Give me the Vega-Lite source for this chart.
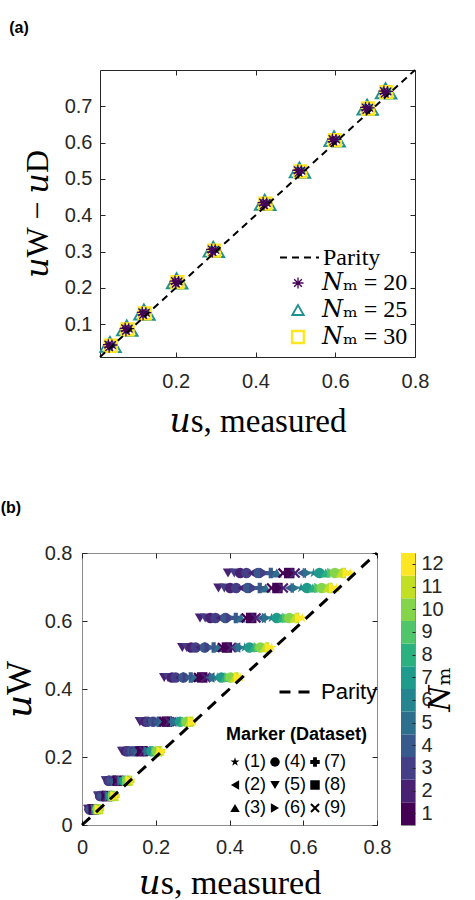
{
  "$schema": "https://vega.github.io/schema/vega-lite/v6.json",
  "background": "white",
  "padding": {"left": 0, "top": 20, "right": 0, "bottom": 0},
  "spacing": 61,
  "resolve": {"scale": {"color": "independent", "shape": "independent", "strokeDash": "independent", "size": "independent", "strokeWidth": "independent", "x": "independent", "y": "independent"}, "legend": {"color": "independent", "shape": "independent", "strokeDash": "independent", "size": "independent", "strokeWidth": "independent"}},
  "config": {
    "axis": {"labelFlush": false, "grid": false, "domain": false}
  },
  "vconcat": [
    {
      "width": 333,
      "height": 287,
      "title": {"text": "(a)", "anchor": "start", "frame": "bounds", "font": "Liberation Sans", "fontSize": 16, "fontWeight": "bold", "color": "black", "offset": 30, "dx": -12},
      "view": {"stroke": null},
      "layer": [
        {
          "data": {"values": [
            {"s":"25","x":0.035,"y":0.052},{"s":"25","x":0.025,"y":0.038},{"s":"25","x":0.048,"y":0.037},
            {"s":"25","x":0.077,"y":0.097},{"s":"25","x":0.067,"y":0.083},{"s":"25","x":0.090,"y":0.082},
            {"s":"25","x":0.120,"y":0.141},{"s":"25","x":0.110,"y":0.127},{"s":"25","x":0.133,"y":0.126},
            {"s":"25","x":0.202,"y":0.227},{"s":"25","x":0.192,"y":0.213},{"s":"25","x":0.215,"y":0.212},
            {"s":"25","x":0.294,"y":0.314},{"s":"25","x":0.284,"y":0.300},{"s":"25","x":0.307,"y":0.299},
            {"s":"25","x":0.423,"y":0.443},{"s":"25","x":0.413,"y":0.429},{"s":"25","x":0.436,"y":0.428},
            {"s":"25","x":0.510,"y":0.532},{"s":"25","x":0.500,"y":0.518},{"s":"25","x":0.523,"y":0.517},
            {"s":"25","x":0.597,"y":0.618},{"s":"25","x":0.587,"y":0.604},{"s":"25","x":0.610,"y":0.603},
            {"s":"25","x":0.680,"y":0.705},{"s":"25","x":0.670,"y":0.691},{"s":"25","x":0.693,"y":0.690},
            {"s":"25","x":0.726,"y":0.750},{"s":"25","x":0.716,"y":0.736},{"s":"25","x":0.739,"y":0.735},
            {"s":"30","x":0.037,"y":0.041},{"s":"30","x":0.079,"y":0.086},{"s":"30","x":0.122,"y":0.130},
            {"s":"30","x":0.204,"y":0.216},{"s":"30","x":0.296,"y":0.303},{"s":"30","x":0.425,"y":0.432},
            {"s":"30","x":0.512,"y":0.521},{"s":"30","x":0.599,"y":0.607},{"s":"30","x":0.682,"y":0.694},
            {"s":"30","x":0.728,"y":0.739},
            {"s":"20","x":0.033,"y":0.037},{"s":"20","x":0.040,"y":0.043},{"s":"20","x":0.031,"y":0.044},
            {"s":"20","x":0.075,"y":0.082},{"s":"20","x":0.082,"y":0.088},{"s":"20","x":0.073,"y":0.089},
            {"s":"20","x":0.118,"y":0.126},{"s":"20","x":0.125,"y":0.132},{"s":"20","x":0.116,"y":0.133},
            {"s":"20","x":0.200,"y":0.212},{"s":"20","x":0.207,"y":0.218},{"s":"20","x":0.198,"y":0.219},
            {"s":"20","x":0.292,"y":0.299},{"s":"20","x":0.299,"y":0.305},{"s":"20","x":0.290,"y":0.306},
            {"s":"20","x":0.421,"y":0.428},{"s":"20","x":0.428,"y":0.434},{"s":"20","x":0.419,"y":0.435},
            {"s":"20","x":0.508,"y":0.517},{"s":"20","x":0.515,"y":0.523},{"s":"20","x":0.506,"y":0.524},
            {"s":"20","x":0.595,"y":0.603},{"s":"20","x":0.602,"y":0.609},{"s":"20","x":0.593,"y":0.610},
            {"s":"20","x":0.678,"y":0.690},{"s":"20","x":0.685,"y":0.696},{"s":"20","x":0.676,"y":0.697},
            {"s":"20","x":0.724,"y":0.735},{"s":"20","x":0.731,"y":0.741},{"s":"20","x":0.722,"y":0.742}
          ]},
          "mark": {"type": "point", "filled": false, "opacity": 1},
          "encoding": {
            "x": {"field": "x", "type": "quantitative", "scale": {"domain": [0.01, 0.8], "range": [18, 333], "nice": false, "zero": false},
              "axis": {"orient": "top", "values": [0.2, 0.4, 0.6, 0.8], "labels": false, "title": null, "tickSize": -5, "tickColor": "#262626",
                "domain": true, "domainColor": "#262626", "domainWidth": 1}},
            "y": {"field": "y", "type": "quantitative", "scale": {"domain": [0.01, 0.8], "nice": false, "zero": false},
              "axis": {"orient": "right", "values": [0.1, 0.2, 0.3, 0.4, 0.5, 0.6, 0.7], "labels": false, "title": null, "tickSize": -5, "tickColor": "#262626",
                "domain": true, "domainColor": "#262626", "domainWidth": 1}},
            "color": {"field": "s", "type": "nominal",
              "scale": {"domain": ["20", "25", "30"], "range": ["#440154", "#21918c", "#fde725"]},
              "legend": {"title": null, "orient": "none", "legendX": 204, "legendY": 201, "labelExpr": "'𝑁ₘ = ' + datum.label",
                "labelFont": "Liberation Serif, DejaVu Serif", "labelFontSize": 24, "labelColor": "black", "labelOffset": 12,
                "rowPadding": 3, "symbolSize": 160, "symbolStrokeWidth": 2.5}},
            "shape": {"field": "s", "type": "nominal",
              "scale": {"domain": ["20", "25", "30"], "range": ["M-1,0L1,0M0,-1L0,1M-0.7,-0.7L0.7,0.7M-0.7,0.7L0.7,-0.7", "triangle-up", "square"]}},
            "size": {"field": "s", "type": "nominal", "scale": {"domain": ["20", "25", "30"], "range": [120, 140, 200]}, "legend": null},
            "strokeWidth": {"field": "s", "type": "nominal", "scale": {"domain": ["20", "25", "30"], "range": [1.3, 2.5, 2.8]}, "legend": null}
          }
        },
        {
          "data": {"values": [{"x": 0.01, "y": 0.01}, {"x": 0.8, "y": 0.8}]},
          "mark": {"type": "line", "color": "black", "strokeWidth": 2},
          "encoding": {
            "x": {"field": "x", "type": "quantitative", "scale": {"domain": [0.01, 0.8], "range": [18, 333], "nice": false, "zero": false},
              "axis": {"orient": "bottom", "values": [0.2, 0.4, 0.6, 0.8], "format": ".1f", "tickSize": -5, "tickColor": "#262626",
                "domain": true, "domainColor": "#262626", "domainWidth": 1,
                "labelFont": "Liberation Sans", "labelFontSize": 20, "labelColor": "#262626", "labelPadding": 19,
                "title": "𝑢s, measured", "titleFont": "Liberation Serif, DejaVu Serif", "titleFontSize": 33, "titleFontWeight": "normal", "titleColor": "black", "titlePadding": 14}},
            "y": {"field": "y", "type": "quantitative", "scale": {"domain": [0.01, 0.8], "nice": false, "zero": false},
              "axis": {"orient": "left", "offset": -18, "values": [0.1, 0.2, 0.3, 0.4, 0.5, 0.6, 0.7], "format": ".1f", "tickSize": -5, "tickColor": "#262626",
                "domain": true, "domainColor": "#262626", "domainWidth": 1,
                "labelFont": "Liberation Sans", "labelFontSize": 20, "labelColor": "#262626", "labelPadding": 13,
                "title": "𝑢W − 𝑢D", "titleFont": "Liberation Serif, DejaVu Serif", "titleFontSize": 32, "titleFontWeight": "normal", "titleColor": "black", "titlePadding": 10}},
            "strokeDash": {"datum": "Parity", "scale": {"range": [[7, 5]]},
              "legend": {"title": null, "orient": "none", "legendX": 197, "legendY": 167, "symbolType": "stroke", "symbolSize": 1521,
                "symbolStrokeWidth": 2, "symbolStrokeColor": "black", "labelFont": "Liberation Serif, DejaVu Serif", "labelFontSize": 24,
                "labelColor": "black", "labelOffset": 3}}
          }
        }
      ],
      "resolve": {"axis": {"x": "independent", "y": "independent"}}
    },
    {
      "title": {"text": "(b)", "anchor": "start", "frame": "bounds", "font": "Liberation Sans", "fontSize": 16, "fontWeight": "bold", "color": "black", "offset": 27},
      "spacing": 8,
      "resolve": {"scale": {"color": "independent", "shape": "independent", "x": "independent", "y": "independent"}, "legend": {"color": "independent", "shape": "independent"}},
      "hconcat": [
        {
          "width": 295,
          "height": 272,
          "view": {"stroke": "#8c8c8c", "strokeWidth": 1},
          "layer": [
            {
              "data": {"values": [
{"y":0.741,"x":0.396,"n":2,"d":5},{"y":0.741,"x":0.413,"n":3,"d":5},{"y":0.741,"x":0.429,"n":2,"d":4},{"y":0.741,"x":0.446,"n":3,"d":4},{"y":0.741,"x":0.462,"n":2,"d":2},{"y":0.741,"x":0.479,"n":4,"d":4},{"y":0.741,"x":0.495,"n":3,"d":6},{"y":0.741,"x":0.512,"n":4,"d":7},{"y":0.741,"x":0.528,"n":5,"d":3},{"y":0.741,"x":0.545,"n":1,"d":9},{"y":0.741,"x":0.562,"n":1,"d":8},{"y":0.741,"x":0.578,"n":2,"d":9},{"y":0.741,"x":0.595,"n":4,"d":2},{"y":0.741,"x":0.611,"n":5,"d":6},{"y":0.741,"x":0.628,"n":6,"d":1},{"y":0.741,"x":0.644,"n":7,"d":4},{"y":0.741,"x":0.661,"n":8,"d":3},{"y":0.741,"x":0.677,"n":9,"d":6},{"y":0.741,"x":0.694,"n":10,"d":2},{"y":0.741,"x":0.710,"n":11,"d":7},{"y":0.741,"x":0.686,"n":10,"d":4},{"y":0.741,"x":0.702,"n":11,"d":3},{"y":0.741,"x":0.719,"n":12,"d":6},{"y":0.741,"x":0.727,"n":12,"d":1},
{"y":0.697,"x":0.370,"n":2,"d":5},{"y":0.697,"x":0.386,"n":3,"d":5},{"y":0.697,"x":0.402,"n":2,"d":4},{"y":0.697,"x":0.418,"n":3,"d":4},{"y":0.697,"x":0.434,"n":2,"d":2},{"y":0.697,"x":0.450,"n":4,"d":4},{"y":0.697,"x":0.466,"n":3,"d":6},{"y":0.697,"x":0.482,"n":4,"d":7},{"y":0.697,"x":0.498,"n":5,"d":3},{"y":0.697,"x":0.514,"n":1,"d":9},{"y":0.697,"x":0.530,"n":1,"d":8},{"y":0.697,"x":0.546,"n":2,"d":9},{"y":0.697,"x":0.562,"n":4,"d":2},{"y":0.697,"x":0.578,"n":5,"d":6},{"y":0.697,"x":0.594,"n":6,"d":1},{"y":0.697,"x":0.610,"n":7,"d":4},{"y":0.697,"x":0.626,"n":8,"d":3},{"y":0.697,"x":0.642,"n":9,"d":6},{"y":0.697,"x":0.658,"n":10,"d":2},{"y":0.697,"x":0.674,"n":11,"d":7},{"y":0.697,"x":0.650,"n":10,"d":4},{"y":0.697,"x":0.666,"n":11,"d":3},{"y":0.697,"x":0.682,"n":12,"d":6},{"y":0.697,"x":0.690,"n":12,"d":1},
{"y":0.609,"x":0.320,"n":2,"d":5},{"y":0.609,"x":0.334,"n":3,"d":5},{"y":0.609,"x":0.348,"n":2,"d":4},{"y":0.609,"x":0.362,"n":3,"d":4},{"y":0.609,"x":0.375,"n":2,"d":2},{"y":0.609,"x":0.389,"n":4,"d":4},{"y":0.609,"x":0.403,"n":3,"d":6},{"y":0.609,"x":0.417,"n":4,"d":7},{"y":0.609,"x":0.431,"n":5,"d":3},{"y":0.609,"x":0.445,"n":1,"d":9},{"y":0.609,"x":0.459,"n":1,"d":8},{"y":0.609,"x":0.472,"n":2,"d":9},{"y":0.609,"x":0.486,"n":4,"d":2},{"y":0.609,"x":0.500,"n":5,"d":6},{"y":0.609,"x":0.514,"n":6,"d":1},{"y":0.609,"x":0.528,"n":7,"d":4},{"y":0.609,"x":0.542,"n":8,"d":3},{"y":0.609,"x":0.555,"n":9,"d":6},{"y":0.609,"x":0.569,"n":10,"d":2},{"y":0.609,"x":0.583,"n":11,"d":7},{"y":0.609,"x":0.562,"n":10,"d":4},{"y":0.609,"x":0.576,"n":11,"d":3},{"y":0.609,"x":0.590,"n":12,"d":6},{"y":0.609,"x":0.597,"n":12,"d":1},
{"y":0.522,"x":0.272,"n":2,"d":5},{"y":0.522,"x":0.284,"n":3,"d":5},{"y":0.522,"x":0.296,"n":2,"d":4},{"y":0.522,"x":0.308,"n":3,"d":4},{"y":0.522,"x":0.320,"n":2,"d":2},{"y":0.522,"x":0.333,"n":4,"d":4},{"y":0.522,"x":0.345,"n":3,"d":6},{"y":0.522,"x":0.357,"n":4,"d":7},{"y":0.522,"x":0.369,"n":5,"d":3},{"y":0.522,"x":0.381,"n":1,"d":9},{"y":0.522,"x":0.393,"n":1,"d":8},{"y":0.522,"x":0.405,"n":2,"d":9},{"y":0.522,"x":0.417,"n":4,"d":2},{"y":0.522,"x":0.429,"n":5,"d":6},{"y":0.522,"x":0.441,"n":6,"d":1},{"y":0.522,"x":0.454,"n":7,"d":4},{"y":0.522,"x":0.466,"n":8,"d":3},{"y":0.522,"x":0.478,"n":9,"d":6},{"y":0.522,"x":0.490,"n":10,"d":2},{"y":0.522,"x":0.502,"n":11,"d":7},{"y":0.522,"x":0.484,"n":10,"d":4},{"y":0.522,"x":0.496,"n":11,"d":3},{"y":0.522,"x":0.508,"n":12,"d":6},{"y":0.522,"x":0.514,"n":12,"d":1},
{"y":0.434,"x":0.223,"n":2,"d":5},{"y":0.434,"x":0.233,"n":3,"d":5},{"y":0.434,"x":0.244,"n":2,"d":4},{"y":0.434,"x":0.254,"n":3,"d":4},{"y":0.434,"x":0.264,"n":2,"d":2},{"y":0.434,"x":0.275,"n":4,"d":4},{"y":0.434,"x":0.285,"n":3,"d":6},{"y":0.434,"x":0.295,"n":4,"d":7},{"y":0.434,"x":0.305,"n":5,"d":3},{"y":0.434,"x":0.316,"n":1,"d":9},{"y":0.434,"x":0.326,"n":1,"d":8},{"y":0.434,"x":0.336,"n":2,"d":9},{"y":0.434,"x":0.347,"n":4,"d":2},{"y":0.434,"x":0.357,"n":5,"d":6},{"y":0.434,"x":0.367,"n":6,"d":1},{"y":0.434,"x":0.378,"n":7,"d":4},{"y":0.434,"x":0.388,"n":8,"d":3},{"y":0.434,"x":0.398,"n":9,"d":6},{"y":0.434,"x":0.408,"n":10,"d":2},{"y":0.434,"x":0.419,"n":11,"d":7},{"y":0.434,"x":0.403,"n":10,"d":4},{"y":0.434,"x":0.414,"n":11,"d":3},{"y":0.434,"x":0.424,"n":12,"d":6},{"y":0.434,"x":0.429,"n":12,"d":1},
{"y":0.304,"x":0.157,"n":2,"d":5},{"y":0.304,"x":0.164,"n":3,"d":5},{"y":0.304,"x":0.172,"n":2,"d":4},{"y":0.304,"x":0.179,"n":3,"d":4},{"y":0.304,"x":0.186,"n":2,"d":2},{"y":0.304,"x":0.193,"n":4,"d":4},{"y":0.304,"x":0.201,"n":3,"d":6},{"y":0.304,"x":0.208,"n":4,"d":7},{"y":0.304,"x":0.215,"n":5,"d":3},{"y":0.304,"x":0.222,"n":1,"d":9},{"y":0.304,"x":0.230,"n":1,"d":8},{"y":0.304,"x":0.237,"n":2,"d":9},{"y":0.304,"x":0.244,"n":4,"d":2},{"y":0.304,"x":0.251,"n":5,"d":6},{"y":0.304,"x":0.259,"n":6,"d":1},{"y":0.304,"x":0.266,"n":7,"d":4},{"y":0.304,"x":0.273,"n":8,"d":3},{"y":0.304,"x":0.280,"n":9,"d":6},{"y":0.304,"x":0.288,"n":10,"d":2},{"y":0.304,"x":0.295,"n":11,"d":7},{"y":0.304,"x":0.284,"n":10,"d":4},{"y":0.304,"x":0.292,"n":11,"d":3},{"y":0.304,"x":0.299,"n":12,"d":6},{"y":0.304,"x":0.302,"n":12,"d":1},
{"y":0.217,"x":0.109,"n":2,"d":5},{"y":0.217,"x":0.114,"n":3,"d":5},{"y":0.217,"x":0.120,"n":2,"d":4},{"y":0.217,"x":0.125,"n":3,"d":4},{"y":0.217,"x":0.130,"n":2,"d":2},{"y":0.217,"x":0.136,"n":4,"d":4},{"y":0.217,"x":0.141,"n":3,"d":6},{"y":0.217,"x":0.146,"n":4,"d":7},{"y":0.217,"x":0.152,"n":5,"d":3},{"y":0.217,"x":0.157,"n":1,"d":9},{"y":0.217,"x":0.163,"n":1,"d":8},{"y":0.217,"x":0.168,"n":2,"d":9},{"y":0.217,"x":0.173,"n":4,"d":2},{"y":0.217,"x":0.179,"n":5,"d":6},{"y":0.217,"x":0.184,"n":6,"d":1},{"y":0.217,"x":0.189,"n":7,"d":4},{"y":0.217,"x":0.195,"n":8,"d":3},{"y":0.217,"x":0.200,"n":9,"d":6},{"y":0.217,"x":0.205,"n":10,"d":2},{"y":0.217,"x":0.211,"n":11,"d":7},{"y":0.217,"x":0.203,"n":10,"d":4},{"y":0.217,"x":0.208,"n":11,"d":3},{"y":0.217,"x":0.214,"n":12,"d":6},{"y":0.217,"x":0.216,"n":12,"d":1},
{"y":0.130,"x":0.065,"n":2,"d":5},{"y":0.130,"x":0.068,"n":3,"d":5},{"y":0.130,"x":0.072,"n":2,"d":4},{"y":0.130,"x":0.075,"n":3,"d":4},{"y":0.130,"x":0.078,"n":2,"d":2},{"y":0.130,"x":0.082,"n":4,"d":4},{"y":0.130,"x":0.085,"n":3,"d":6},{"y":0.130,"x":0.088,"n":4,"d":7},{"y":0.130,"x":0.091,"n":5,"d":3},{"y":0.130,"x":0.095,"n":1,"d":9},{"y":0.130,"x":0.098,"n":1,"d":8},{"y":0.130,"x":0.101,"n":2,"d":9},{"y":0.130,"x":0.105,"n":4,"d":2},{"y":0.130,"x":0.108,"n":5,"d":6},{"y":0.130,"x":0.111,"n":6,"d":1},{"y":0.130,"x":0.115,"n":7,"d":4},{"y":0.130,"x":0.118,"n":8,"d":3},{"y":0.130,"x":0.121,"n":9,"d":6},{"y":0.130,"x":0.124,"n":10,"d":2},{"y":0.130,"x":0.128,"n":11,"d":7},{"y":0.130,"x":0.123,"n":10,"d":4},{"y":0.130,"x":0.126,"n":11,"d":3},{"y":0.130,"x":0.130,"n":12,"d":6},{"y":0.130,"x":0.131,"n":12,"d":1},
{"y":0.085,"x":0.044,"n":2,"d":5},{"y":0.085,"x":0.046,"n":3,"d":5},{"y":0.085,"x":0.049,"n":2,"d":4},{"y":0.085,"x":0.051,"n":3,"d":4},{"y":0.085,"x":0.053,"n":2,"d":2},{"y":0.085,"x":0.056,"n":4,"d":4},{"y":0.085,"x":0.058,"n":3,"d":6},{"y":0.085,"x":0.060,"n":4,"d":7},{"y":0.085,"x":0.062,"n":5,"d":3},{"y":0.085,"x":0.065,"n":1,"d":9},{"y":0.085,"x":0.067,"n":1,"d":8},{"y":0.085,"x":0.069,"n":2,"d":9},{"y":0.085,"x":0.072,"n":4,"d":2},{"y":0.085,"x":0.074,"n":5,"d":6},{"y":0.085,"x":0.076,"n":6,"d":1},{"y":0.085,"x":0.079,"n":7,"d":4},{"y":0.085,"x":0.081,"n":8,"d":3},{"y":0.085,"x":0.083,"n":9,"d":6},{"y":0.085,"x":0.085,"n":10,"d":2},{"y":0.085,"x":0.088,"n":11,"d":7},{"y":0.085,"x":0.084,"n":10,"d":4},{"y":0.085,"x":0.087,"n":11,"d":3},{"y":0.085,"x":0.089,"n":12,"d":6},{"y":0.085,"x":0.090,"n":12,"d":1},
{"y":0.046,"x":0.017,"n":2,"d":5},{"y":0.046,"x":0.019,"n":3,"d":5},{"y":0.046,"x":0.020,"n":2,"d":4},{"y":0.046,"x":0.022,"n":3,"d":4},{"y":0.046,"x":0.023,"n":2,"d":2},{"y":0.046,"x":0.025,"n":4,"d":4},{"y":0.046,"x":0.026,"n":3,"d":6},{"y":0.046,"x":0.028,"n":4,"d":7},{"y":0.046,"x":0.029,"n":5,"d":3},{"y":0.046,"x":0.031,"n":1,"d":9},{"y":0.046,"x":0.032,"n":1,"d":8},{"y":0.046,"x":0.034,"n":2,"d":9},{"y":0.046,"x":0.035,"n":4,"d":2},{"y":0.046,"x":0.037,"n":5,"d":6},{"y":0.046,"x":0.038,"n":6,"d":1},{"y":0.046,"x":0.040,"n":7,"d":4},{"y":0.046,"x":0.041,"n":8,"d":3},{"y":0.046,"x":0.043,"n":9,"d":6},{"y":0.046,"x":0.044,"n":10,"d":2},{"y":0.046,"x":0.046,"n":11,"d":7},{"y":0.046,"x":0.042,"n":10,"d":4},{"y":0.046,"x":0.045,"n":11,"d":3},{"y":0.046,"x":0.046,"n":12,"d":6},{"y":0.046,"x":0.047,"n":12,"d":1}
              ]},
              "mark": {"type": "point", "filled": true, "opacity": 1, "size": 110},
              "encoding": {
                "x": {"field": "x", "type": "quantitative", "scale": {"domain": [0, 0.8], "nice": false, "zero": false},
                  "axis": {"orient": "top", "values": [0, 0.2, 0.4, 0.6, 0.8], "labels": false, "title": null, "tickSize": -5, "tickColor": "#262626"}},
                "y": {"field": "y", "type": "quantitative", "scale": {"domain": [0, 0.8], "nice": false, "zero": false},
                  "axis": {"orient": "right", "values": [0, 0.2, 0.4, 0.6, 0.8], "labels": false, "title": null, "tickSize": -5, "tickColor": "#262626"}},
                "color": {"field": "n", "type": "ordinal",
                  "scale": {"domain": [1,2,3,4,5,6,7,8,9,10,11,12], "range": ["#440154","#482173","#433e85","#38598c","#2d708e","#25858e","#1e9b8a","#2bb07f","#51c56a","#85d54a","#c2df23","#fde725"]},
                  "legend": null},
                "shape": {"field": "d", "type": "nominal",
                  "scale": {"domain": [1,2,3,4,5,6,7,8,9],
                    "range": ["M0,-1L0.225,-0.309L0.951,-0.309L0.363,0.118L0.588,0.809L0,0.382L-0.588,0.809L-0.363,0.118L-0.951,-0.309L-0.225,-0.309Z",
                      "triangle-left", "triangle-up", "circle", "triangle-down", "triangle-right", "cross", "square",
                      "M-1,-0.7L-0.7,-1L0,-0.3L0.7,-1L1,-0.7L0.3,0L1,0.7L0.7,1L0,0.3L-0.7,1L-1,0.7L-0.3,0Z"]},
                  "legend": {"title": "Marker (Dataset)", "orient": "none", "legendX": 144, "legendY": 173, "columns": 3,
                    "labelExpr": "'(' + datum.label + ')'", "symbolSize": 90, "symbolFillColor": "black", "symbolStrokeColor": "black", "symbolStrokeWidth": 0,
                    "labelFont": "Liberation Sans", "labelFontSize": 18, "labelColor": "black", "labelOffset": 0,
                    "columnPadding": 0, "rowPadding": 5,
                    "titleFont": "Liberation Sans", "titleFontSize": 18, "titleFontWeight": "bold", "titleColor": "black", "titlePadding": 9}}
              }
            },
            {
              "data": {"values": [{"x": 0, "y": 0}, {"x": 0.8, "y": 0.8}]},
              "mark": {"type": "line", "color": "black", "strokeWidth": 3},
              "encoding": {
                "x": {"field": "x", "type": "quantitative", "scale": {"domain": [0, 0.8], "nice": false, "zero": false},
                  "axis": {"orient": "bottom", "values": [0, 0.2, 0.4, 0.6, 0.8], "format": "~g", "tickSize": -5, "tickColor": "#262626",
                    "labelFont": "Liberation Sans", "labelFontSize": 20, "labelColor": "#262626", "labelPadding": 17,
                    "title": "𝑢s, measured", "titleFont": "Liberation Serif, DejaVu Serif", "titleFontSize": 34, "titleFontWeight": "normal", "titleColor": "black", "titlePadding": 9}},
                "y": {"field": "y", "type": "quantitative", "scale": {"domain": [0, 0.8], "nice": false, "zero": false},
                  "axis": {"orient": "left", "values": [0, 0.2, 0.4, 0.6, 0.8], "format": "~g", "tickSize": -5, "tickColor": "#262626",
                    "labelFont": "Liberation Sans", "labelFontSize": 20, "labelColor": "#262626", "labelPadding": 15,
                    "title": "𝑢W", "titleFont": "Liberation Serif, DejaVu Serif", "titleFontSize": 36, "titleFontWeight": "normal", "titleColor": "black", "titlePadding": 6}},
                "strokeDash": {"datum": "Parity", "scale": {"range": [[11, 8]]},
                  "legend": {"title": null, "orient": "none", "legendX": 196, "legendY": 122, "symbolType": "stroke", "symbolSize": 961,
                    "symbolStrokeWidth": 3, "symbolStrokeColor": "black", "labelFont": "Liberation Sans", "labelFontSize": 22,
                    "labelColor": "black", "labelOffset": 9}}
              }
            }
          ],
          "resolve": {"axis": {"x": "independent", "y": "independent"}}
        },
        {
          "width": 14,
          "height": 272,
          "view": {"stroke": "#8c8c8c", "strokeWidth": 1},
          "data": {"values": [{"n":1},{"n":2},{"n":3},{"n":4},{"n":5},{"n":6},{"n":7},{"n":8},{"n":9},{"n":10},{"n":11},{"n":12}]},
          "mark": {"type": "rect"},
          "encoding": {
            "y": {"field": "n", "type": "ordinal", "sort": "descending", "scale": {"paddingInner": 0, "paddingOuter": 0},
              "axis": {"orient": "right", "domain": false, "ticks": true, "tickSize": -3, "tickColor": "#262626",
                "labelFont": "Liberation Sans", "labelFontSize": 20, "labelColor": "#262626", "labelPadding": 9, "labelAngle": 0,
                "title": "𝑁ₘ", "titleFont": "Liberation Serif, DejaVu Serif", "titleFontSize": 30, "titleFontWeight": "normal",
                "titleColor": "black", "titleAngle": 270, "titlePadding": 12}},
            "color": {"field": "n", "type": "ordinal",
              "scale": {"domain": [1,2,3,4,5,6,7,8,9,10,11,12], "range": ["#440154","#482173","#433e85","#38598c","#2d708e","#25858e","#1e9b8a","#2bb07f","#51c56a","#85d54a","#c2df23","#fde725"]},
              "legend": null}
          }
        }
      ]
    }
  ]
}
